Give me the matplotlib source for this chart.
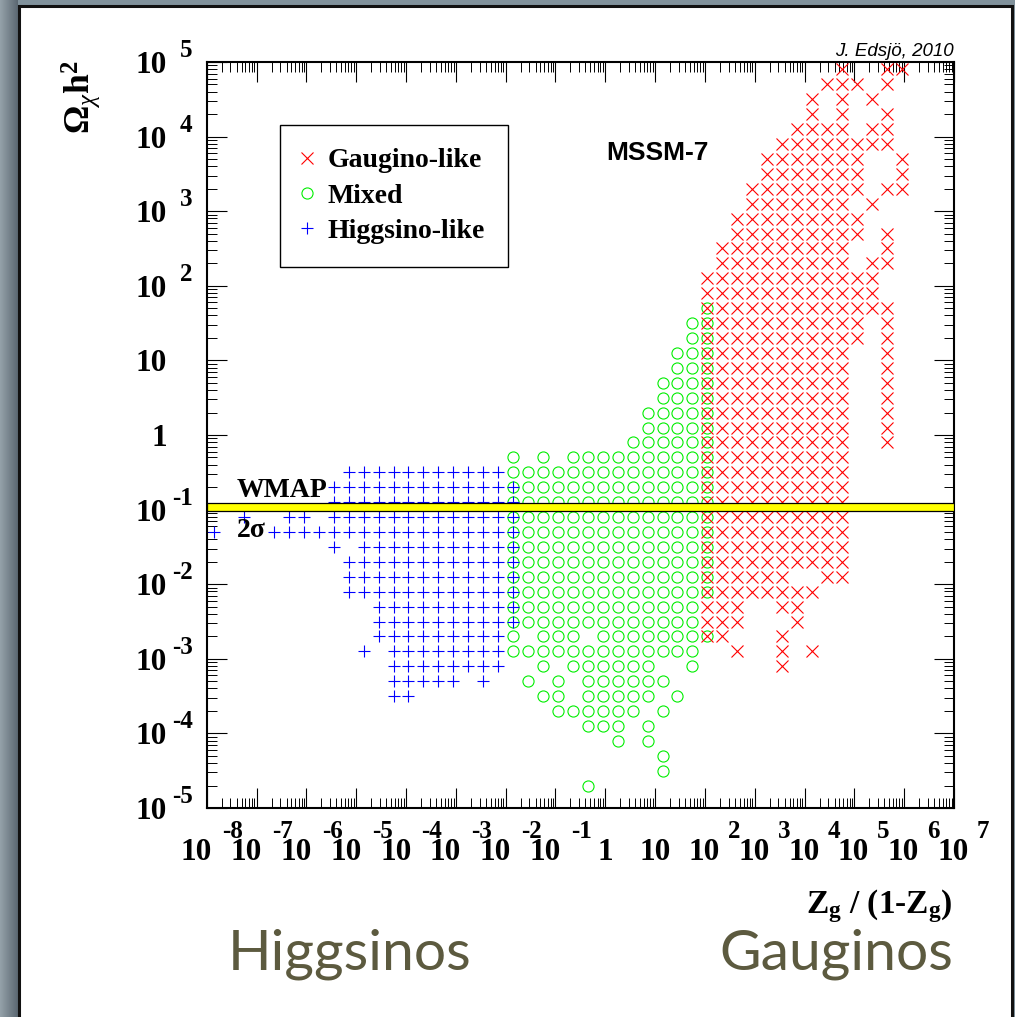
import matplotlib
matplotlib.use("Agg")
import numpy as np
import matplotlib.pyplot as plt
from matplotlib import transforms as mtransforms
from matplotlib.patches import Rectangle
from matplotlib.font_manager import FontProperties
from matplotlib.ticker import LogLocator, NullFormatter

# log10 of Zg/(1-Zg) at the centre of each scan bin
ZG_BIN_LOG = [-7.85, -7.55, -7.25, -6.95, -6.65, -6.35, -6.05, -5.75, -5.45, -5.15,
              -4.85, -4.55, -4.25, -3.95, -3.65, -3.35, -3.05, -2.75, -2.45, -2.15,
              -1.85, -1.55, -1.25, -0.95, -0.65, -0.35, -0.05, 0.25, 0.55, 0.85,
              1.15, 1.45, 1.75, 2.05, 2.35, 2.65, 2.95, 3.25, 3.55, 3.85,
              4.15, 4.45, 4.75, 5.05, 5.35, 5.65, 5.95, 6.25, 6.55, 6.85]

# Occupied bins.  Key: log10(Omega h^2) of the bin centre,
# value: indices into ZG_BIN_LOG ("a-b" is an inclusive run).
GAUGINO = {
    4.9: "42,45,46",
    4.7: "41-43,45",
    4.5: "40,42,44",
    4.3: "40,42,45",
    4.1: "39-42,44,45",
    3.9: "38-45",
    3.7: "37-43,46",
    3.5: "37-43,46",
    3.3: "36-43,45,46",
    3.1: "36-42,44",
    2.9: "35-43",
    2.7: "35-43,45",
    2.5: "34-42,45",
    2.3: "34-42,44,45",
    2.1: "33-44",
    1.9: "33-44",
    1.7: "33-45",
    1.5: "33-43,45",
    1.3: "33-43,45",
    1.1: "33-42,45",
    0.9: "33-42,45",
    0.7: "33-42,45",
    0.5: "33-42,45",
    0.3: "33-42,45",
    0.1: "33-42,45",
    -0.1: "33-42,45",
    -0.3: "33-42",
    -0.5: "33-42",
    -0.7: "33-42",
    -0.9: "33-42",
    -1.1: "33-42",
    -1.3: "33-42",
    -1.5: "33-42",
    -1.7: "33-42",
    -1.9: "33-38,41,42",
    -2.1: "33-40",
    -2.3: "33-35,38,39",
    -2.5: "33-35,39",
    -2.7: "33,34,38",
    -2.9: "35,38,40",
    -3.1: "38",
}

MIXED = {
    1.7: "33",
    1.5: "32,33",
    1.3: "32,33",
    1.1: "31-33",
    0.9: "31-33",
    0.7: "30-33",
    0.5: "30-33",
    0.3: "29-33",
    0.1: "29-33",
    -0.1: "28-33",
    -0.3: "20,22,24-33",
    -0.5: "20-33",
    -0.7: "20-33",
    -0.9: "20-33",
    -1.1: "20-33",
    -1.3: "20-33",
    -1.5: "20-33",
    -1.7: "20-33",
    -1.9: "20-33",
    -2.1: "20-33",
    -2.3: "20-32",
    -2.5: "20-32",
    -2.7: "20,22-24,26-33",
    -2.9: "20-32",
    -3.1: "22,24-29,32",
    -3.3: "21,23,25-30",
    -3.5: "22,23,25-29,31",
    -3.7: "23-28,30",
    -3.9: "25-27,29",
    -4.1: "27,29",
    -4.3: "30",
    -4.5: "30",
    -4.7: "25",
}

HIGGSINO = {
    -0.5: "9-19",
    -0.7: "8-20",
    -0.9: "8-20",
    -1.1: "2,5,6,8-20",
    -1.3: "0,4-20",
    -1.5: "8,10-20",
    -1.7: "9-20",
    -1.9: "9-20",
    -2.1: "9-20",
    -2.3: "11-20",
    -2.5: "11-20",
    -2.7: "11-19",
    -2.9: "10,12-19",
    -3.1: "12-19",
    -3.3: "12-16,18",
    -3.5: "12,13",
}

# WMAP 2 sigma range of Omega h^2
WMAP_RANGE = (0.097, 0.121)

X_DECADES = list(range(-8, 8))
Y_DECADES = list(range(-5, 6))


def expand(spec):
    idx = []
    for part in spec.split(","):
        if "-" in part:
            a, b = part.split("-")
            idx.extend(range(int(a), int(b) + 1))
        else:
            idx.append(int(part))
    return idx


def points(table):
    xs, ys = [], []
    for ylog, spec in table.items():
        for i in expand(spec):
            xs.append(10.0 ** ZG_BIN_LOG[i])
            ys.append(10.0 ** ylog)
    return np.array(xs), np.array(ys)


plt.rcParams['mathtext.fontset'] = 'custom'
plt.rcParams['mathtext.rm'] = 'Liberation Serif:bold'
plt.rcParams['mathtext.bf'] = 'Liberation Serif:bold'
plt.rcParams['mathtext.it'] = 'Liberation Serif:italic'

W, H = 1015, 1017
fig = plt.figure(figsize=(W / 100, H / 100), dpi=100)
fig.patch.set_facecolor('#81929c')

# darker shading on the left margin
grad = np.linspace(0.0, 1.0, 18)
c0 = np.array([0.58, 0.63, 0.66])
c1 = np.array([0.36, 0.41, 0.45])
strip = (c0[None, :] * (1 - grad[:, None]) + c1[None, :] * grad[:, None])
strip = np.repeat(strip[None, :, :], H, axis=0)
fig.figimage(strip, xo=0, yo=0, zorder=-2)

# white slide panel with black frame
fig.add_artist(Rectangle((18.5 / W, -0.02), (1011.5 - 18.5) / W, 1.02 - 6 / H,
                         transform=fig.transFigure, facecolor='white',
                         edgecolor='#111111', lw=2.2, zorder=-1))

left, right, top, bottom = 206.7, 954.0, 62.0, 808.0
ax = fig.add_axes([left / W, 1 - bottom / H, (right - left) / W, (bottom - top) / H])
ax.set_zorder(2)
ax.set_xscale('log')
ax.set_yscale('log')
ax.set_xlim(10.0 ** X_DECADES[0], 10.0 ** X_DECADES[-1])
ax.set_ylim(10.0 ** Y_DECADES[0], 10.0 ** Y_DECADES[-1])
ax.set_facecolor('white')

mx, my = points(MIXED)
gx, gy = points(GAUGINO)
hx, hy = points(HIGGSINO)
l_mix, = ax.plot(mx, my, ls='none', marker='o', ms=8.0, mfc='none',
                 mec='#00ee00', mew=0.8, label='Mixed', zorder=3)
l_gau, = ax.plot(gx, gy, ls='none', marker='x', ms=8.5, mec='#ff0000',
                 mew=0.8, label='Gaugino-like', zorder=4)
l_hig, = ax.plot(hx, hy, ls='none', marker='+', ms=8.5, mec='#0000ff',
                 mew=0.8, label='Higgsino-like', zorder=4)

ax.axhspan(WMAP_RANGE[0], WMAP_RANGE[1], facecolor='#ffff00',
           edgecolor='black', lw=0.9, zorder=5)

for axis in (ax.xaxis, ax.yaxis):
    axis.set_major_locator(LogLocator(base=10, numticks=40))
    axis.set_minor_locator(LogLocator(base=10, subs=np.arange(2, 10), numticks=40))
    axis.set_major_formatter(NullFormatter())
    axis.set_minor_formatter(NullFormatter())
ax.tick_params(which='major', direction='in', length=14.4, width=0.8,
               top=True, right=True, labelbottom=False, labelleft=False)
ax.tick_params(which='minor', direction='in', length=7.2, width=0.7,
               top=True, right=True)
for sp in ax.spines.values():
    sp.set_linewidth(1.5)

serif_b = dict(family='Liberation Serif', weight='bold')
BASE_FS, EXP_FS = 22.5, 18

# x tick labels (ROOT style: base and exponent set separately)
xtr = mtransforms.blended_transform_factory(ax.transData, ax.transAxes)
for k in X_DECADES:
    x = 10.0 ** k
    tb = mtransforms.offset_copy(xtr, fig=fig, x=0, y=-52, units='dots')
    if k == 0:
        ax.text(x, 0, '1', transform=tb, ha='center', va='baseline', fontsize=BASE_FS,
                clip_on=False, **serif_b)
        continue
    if k == 1:
        ax.text(x, 0, '10', transform=tb, ha='center', va='baseline', fontsize=BASE_FS,
                clip_on=False, **serif_b)
        continue
    b_dx, e_dx = (5.5, 15.5) if k < 0 else (15.0, 23.0)
    tb = mtransforms.offset_copy(xtr, fig=fig, x=b_dx, y=-52, units='dots')
    te = mtransforms.offset_copy(xtr, fig=fig, x=e_dx, y=-30, units='dots')
    ax.text(x, 0, '10', transform=tb, ha='right', va='baseline', fontsize=BASE_FS,
            clip_on=False, **serif_b)
    ax.text(x, 0, '%d' % k, transform=te, ha='left', va='baseline', fontsize=EXP_FS,
            clip_on=False, **serif_b)

# y tick labels
ytr = mtransforms.blended_transform_factory(ax.transAxes, ax.transData)
for k in Y_DECADES:
    y = 10.0 ** k
    tb = mtransforms.offset_copy(ytr, fig=fig, x=-39.7, y=-11, units='dots')
    if k == 0:
        ax.text(0, y, '1', transform=tb, ha='right', va='baseline', fontsize=BASE_FS,
                clip_on=False, **serif_b)
        continue
    ax.text(0, y, '10', transform=tb, ha='right', va='baseline', fontsize=BASE_FS,
            clip_on=False, **serif_b)
    if k != 1:
        te = mtransforms.offset_copy(ytr, fig=fig, x=-27 if k > 0 else -35, y=5, units='dots')
        ax.text(0, y, '%d' % k, transform=te, ha='left', va='baseline', fontsize=EXP_FS,
                clip_on=False, **serif_b)

# axis titles
fig.text(81 / W, 1 - 97 / H, r'$\mathbf{\Omega}_{\chi}\mathbf{h}^{\mathbf{2}}$',
         rotation=90, ha='center', va='center', fontsize=25.5, **serif_b)
fig.text(953 / W, 1 - 913 / H, r'$\mathbf{Z}_{\mathbf{g}}$ / (1-$\mathbf{Z}_{\mathbf{g}}$)',
         ha='right', va='baseline', fontsize=24, **serif_b)

# band annotation
ax.text((237 - left) / (right - left), (bottom - 497) / (bottom - top), 'WMAP',
        transform=ax.transAxes, ha='left', va='baseline', fontsize=20, zorder=6, **serif_b)
ax.text((237 - left) / (right - left), (bottom - 537) / (bottom - top), '2σ',
        transform=ax.transAxes, ha='left', va='baseline', fontsize=20, zorder=6, **serif_b)

fig.text(606 / W, 1 - 160 / H, 'MSSM-7', family='Liberation Sans', weight='bold',
         fontsize=19, ha='left', va='baseline', zorder=5)
fig.text(954 / W, 1 - 56 / H, 'J. Edsjö, 2010', family='Liberation Sans', style='italic',
         fontsize=13.5, ha='right', va='baseline', zorder=5)

leg = ax.legend(handles=[l_gau, l_mix, l_hig], loc='upper left',
                bbox_to_anchor=(280 / W, 1 - 125 / H), bbox_transform=fig.transFigure,
                borderaxespad=0, frameon=True, fancybox=False, edgecolor='black',
                framealpha=1, prop=FontProperties(family='Liberation Serif', weight='bold', size=20),
                handlelength=0.3, handletextpad=0.6, borderpad=0.82, labelspacing=0.36)
leg.get_frame().set_linewidth(1.0)
leg.set_zorder(7)

olive = '#5c5a3f'
fig.text(228 / W, 1 - 970 / H, 'Higgsinos', family='Lato', fontsize=41,
         color=olive, ha='left', va='baseline', zorder=5)
fig.text(953 / W, 1 - 970 / H, 'Gauginos', family='Lato', fontsize=41,
         color=olive, ha='right', va='baseline', zorder=5)

fig.savefig('out.png', dpi=100, facecolor=fig.get_facecolor())
